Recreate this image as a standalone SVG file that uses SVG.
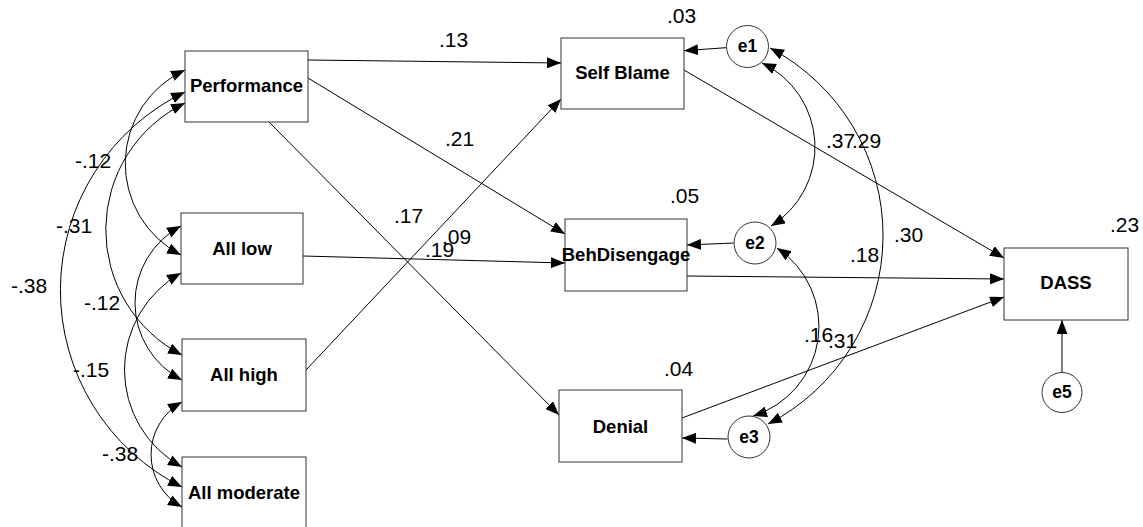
<svg xmlns="http://www.w3.org/2000/svg" width="1143" height="527" viewBox="0 0 1143 527">
<defs>
<marker id="arr" markerUnits="userSpaceOnUse" markerWidth="14" markerHeight="11" refX="14" refY="5.5" orient="auto-start-reverse">
<path d="M0,0 L14,5.5 L0,11 z" fill="#000"/>
</marker>
<style>
.box{fill:#fff;stroke:#333;stroke-width:1}
.circ{fill:#fff;stroke:#333;stroke-width:1}
.nl{font-family:"Liberation Sans",Arial,sans-serif;font-weight:bold;font-size:18.5px;text-anchor:middle;fill:#000}
.el{font-family:"Liberation Sans",Arial,sans-serif;font-weight:bold;font-size:17.5px;text-anchor:middle;fill:#000}
.num{font-family:"Liberation Sans",Arial,sans-serif;font-size:21px;fill:#000}
.c{fill:none;stroke:#000;stroke-width:1;marker-end:url(#arr)}
.cc{fill:none;stroke:#000;stroke-width:1;marker-start:url(#arr);marker-end:url(#arr)}
</style>
</defs>
<rect width="1143" height="527" fill="#fff"/>
<g id="connectors">
<path class="c" d="M308,60 L561,63"/>
<path class="c" d="M308,78 L565,234"/>
<path class="c" d="M269,122 L559,415"/>
<path class="c" d="M303,256 L565,263"/>
<path class="c" d="M306,370 L561,99"/>
<path class="c" d="M684,70 L1004,258"/>
<path class="c" d="M687,276 L1004,279"/>
<path class="c" d="M682,418 L1004,297"/>
<path class="c" d="M726,47.7 L684,50.7"/>
<path class="c" d="M733.5,243 L687,245"/>
<path class="c" d="M727.5,439 L682,438"/>
<path class="c" d="M1062,372.5 L1062,320"/>
<path class="cc" d="M185,70 A103,103 0 0 0 181,255"/>
<path class="cc" d="M185,92 A220,220 0 0 0 182,487"/>
<path class="cc" d="M185,103 A141,141 0 0 0 182,355"/>
<path class="cc" d="M181,226 A87,87 0 0 0 182,380"/>
<path class="cc" d="M181,273 A111,111 0 0 0 182,467"/>
<path class="cc" d="M182,402 A60,60 0 0 0 182,507"/>
<path class="cc" d="M762,63 A93,93 0 0 1 771,226"/>
<path class="cc" d="M770,48 A212,212 0 0 1 768,424"/>
<path class="cc" d="M777,248 A94,94 0 0 1 753,416"/>
</g>
<g id="performance"><rect class="box" x="185" y="51" width="123" height="71"/><text class="nl" x="246.5" y="92">Performance</text></g>
<g id="all-low"><rect class="box" x="181" y="213" width="122" height="71"/><text class="nl" x="242" y="254.5">All low</text></g>
<g id="all-high"><rect class="box" x="182" y="339" width="124" height="72"/><text class="nl" x="244" y="380.5">All high</text></g>
<g id="all-moderate"><rect class="box" x="182" y="457" width="124" height="72"/><text class="nl" x="244" y="498.5">All moderate</text></g>
<g id="self-blame"><rect class="box" x="561" y="38" width="123" height="71"/><text class="nl" x="622.5" y="79">Self Blame</text></g>
<g id="behdisengage"><rect class="box" x="565" y="219" width="122" height="72"/><text class="nl" x="626" y="261">BehDisengage</text></g>
<g id="denial"><rect class="box" x="559" y="390" width="123" height="72"/><text class="nl" x="620.5" y="433">Denial</text></g>
<g id="dass"><rect class="box" x="1004" y="248" width="124" height="72"/><text class="nl" x="1066" y="289">DASS</text></g>
<g id="e1"><circle class="circ" cx="747.5" cy="46.5" r="21"/><text class="el" x="747.5" y="52">e1</text></g>
<g id="e2"><circle class="circ" cx="755" cy="243" r="21"/><text class="el" x="755" y="248.5">e2</text></g>
<g id="e3"><circle class="circ" cx="749" cy="437" r="21"/><text class="el" x="749" y="442.5">e3</text></g>
<g id="e5"><circle class="circ" cx="1062" cy="392.5" r="20"/><text class="el" x="1062" y="398">e5</text></g>
<g id="labels">
<text class="num" x="439" y="47">.13</text>
<text class="num" x="445" y="146">.21</text>
<text class="num" x="394" y="223">.17</text>
<text class="num" x="442" y="244">.09</text>
<text class="num" x="425" y="257">.19</text>
<text class="num" x="75" y="168">-.12</text>
<text class="num" x="56" y="233">-.31</text>
<text class="num" x="11" y="293">-.38</text>
<text class="num" x="84" y="310">-.12</text>
<text class="num" x="73" y="377">-.15</text>
<text class="num" x="102" y="461">-.38</text>
<text class="num" x="667" y="23">.03</text>
<text class="num" x="670" y="203">.05</text>
<text class="num" x="664" y="376">.04</text>
<text class="num" x="1110" y="232">.23</text>
<text class="num" x="826" y="148">.37</text>
<text class="num" x="852" y="148">.29</text>
<text class="num" x="894" y="242">.30</text>
<text class="num" x="850" y="262">.18</text>
<text class="num" x="804" y="342">.16</text>
<text class="num" x="828" y="348">.31</text>
</g>
</svg>
